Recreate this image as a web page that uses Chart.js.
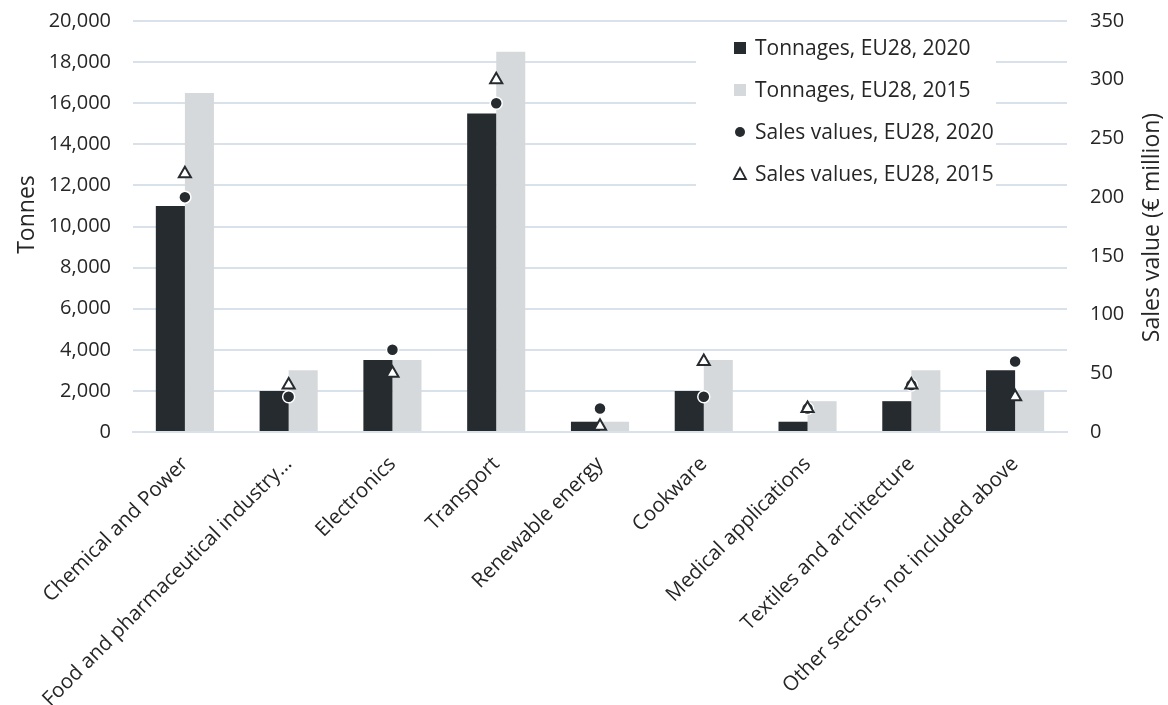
<!DOCTYPE html>
<html>
<head>
<meta charset="utf-8">
<script src="https://cdn.jsdelivr.net/npm/chart.js@4.4.1/dist/chart.umd.min.js"></script>
<style>
  html, body { margin: 0; padding: 0; background: #fff; }
  #wrap { width: 1168px; height: 705px; }
</style>
</head>
<body>
<div id="wrap"><canvas id="chart"></canvas></div>
<script>
// data
const sectors = [
  "Chemical and Power",
  "Food and pharmaceutical industry\u2026",
  "Electronics",
  "Transport",
  "Renewable energy",
  "Cookware",
  "Medical applications",
  "Textiles and architecture",
  "Other sectors, not included above"
];
const tonnes2020 = [11000, 2000, 3500, 15500, 500, 2000, 500, 1500, 3000];
const tonnes2015 = [16500, 3000, 3500, 18500, 500, 3500, 1500, 3000, 2000];
const sales2020 = [200, 30, 70, 280, 20, 30, 20, 40, 60];
const sales2015 = [220, 40, 50, 300, 5, 60, 20, 40, 30];

const DARK = "#262b30";
const LIGHT = "#d6d9dc";
const GRID = "#d9e1ea";
const TEXT = "#262626";
const FONT = "'Open Sans', sans-serif";

Chart.defaults.font.family = FONT;
Chart.defaults.color = TEXT;

// legend box sitting on top of the gridlines, like the original
const boxLegend = {
  id: "boxLegend",
  afterDraw(chart) {
    const ctx = chart.ctx;
    ctx.save();
    ctx.fillStyle = "#fff";
    ctx.fillRect(696, 38, 300, 160);
    ctx.font = "21px " + FONT;
    ctx.textBaseline = "middle";
    ctx.textAlign = "left";
    chart.data.datasets.forEach((ds, i) => {
      const y = 48 + i * 42;
      const x = 740;
      if (ds.type === "bar") {
        ctx.fillStyle = ds.backgroundColor;
        ctx.fillRect(x - 6, y - 6, 12, 12);
      } else if (ds.pointStyle === "circle") {
        ctx.beginPath();
        ctx.arc(x, y, 5, 0, Math.PI * 2);
        ctx.fillStyle = DARK;
        ctx.fill();
      } else {
        ctx.beginPath();
        ctx.moveTo(x, y - 6);
        ctx.lineTo(x + 6, y + 5);
        ctx.lineTo(x - 6, y + 5);
        ctx.closePath();
        ctx.lineWidth = 1.8;
        ctx.strokeStyle = DARK;
        ctx.stroke();
      }
      ctx.fillStyle = TEXT;
      ctx.fillText(ds.label, x + 15, y + 1);
    });
    ctx.restore();
  }
};

// axis titles, both read bottom-to-top (x is the baseline)
const axisTitles = {
  id: "axisTitles",
  afterDraw(chart) {
    const s = chart.scales.y;
    const mid = (s.top + s.bottom) / 2;
    const ctx = chart.ctx;
    ctx.save();
    ctx.font = "23px " + FONT;
    ctx.fillStyle = TEXT;
    ctx.textAlign = "center";
    ctx.textBaseline = "alphabetic";
    [[34, mid - 12, "Tonnes"], [1159, mid + 1, "Sales value (\u20ac million)"]].forEach(([x, y, t]) => {
      ctx.save();
      ctx.translate(x, y);
      ctx.rotate(-Math.PI / 2);
      ctx.fillText(t, 0, 0);
      ctx.restore();
    });
    ctx.restore();
  }
};

new Chart(document.getElementById("chart"), {
  data: {
    labels: sectors,
    datasets: [
      {
        type: "bar",
        label: "Tonnages, EU28, 2020",
        data: tonnes2020,
        backgroundColor: DARK,
        yAxisID: "y",
        categoryPercentage: 0.56,
        barPercentage: 1,
        order: 2
      },
      {
        type: "bar",
        label: "Tonnages, EU28, 2015",
        data: tonnes2015,
        backgroundColor: LIGHT,
        yAxisID: "y",
        categoryPercentage: 0.56,
        barPercentage: 1,
        order: 2
      },
      {
        type: "line",
        label: "Sales values, EU28, 2020",
        data: sales2020,
        yAxisID: "y1",
        showLine: false,
        pointStyle: "circle",
        pointRadius: 6,
        pointBackgroundColor: DARK,
        pointBorderColor: "#fff",
        pointBorderWidth: 1.5,
        order: 1
      },
      {
        type: "line",
        label: "Sales values, EU28, 2015",
        data: sales2015,
        yAxisID: "y1",
        showLine: false,
        pointStyle: "triangle",
        pointRadius: 7,
        pointBackgroundColor: "#fff",
        pointBorderColor: DARK,
        pointBorderWidth: 2,
        order: 0
      }
    ]
  },
  plugins: [boxLegend, axisTitles],
  options: {
    responsive: true,
    maintainAspectRatio: false,
    animation: false,
    layout: { padding: 0 },
    plugins: {
      legend: { display: false },
      tooltip: { enabled: false }
    },
    scales: {
      x: {
        grid: { display: false },
        border: { color: GRID, width: 2 },
        afterFit: s => { s.height = 273; },
        ticks: {
          font: { size: 20.5 },
          color: TEXT,
          minRotation: 45,
          maxRotation: 45,
          autoSkip: false,
          padding: 12
        }
      },
      y: {
        position: "left",
        min: 0,
        max: 20000,
        grid: { color: GRID, lineWidth: 2, drawTicks: false },
        border: { display: false },
        afterFit: s => { s.width = 133; s.paddingTop = 21; s.paddingBottom = 0; },
        ticks: {
          stepSize: 2000,
          padding: 22,
          font: { size: 20 },
          color: TEXT,
          callback: v => v.toLocaleString("en-US")
        }
      },
      y1: {
        position: "right",
        min: 0,
        max: 350,
        grid: { display: false, drawTicks: false },
        border: { display: false },
        afterFit: s => { s.width = 101; s.paddingTop = 21; s.paddingBottom = 0; },
        ticks: {
          stepSize: 50,
          padding: 23,
          font: { size: 20 },
          color: TEXT
        }
      }
    }
  }
});
</script>
</body>
</html>
